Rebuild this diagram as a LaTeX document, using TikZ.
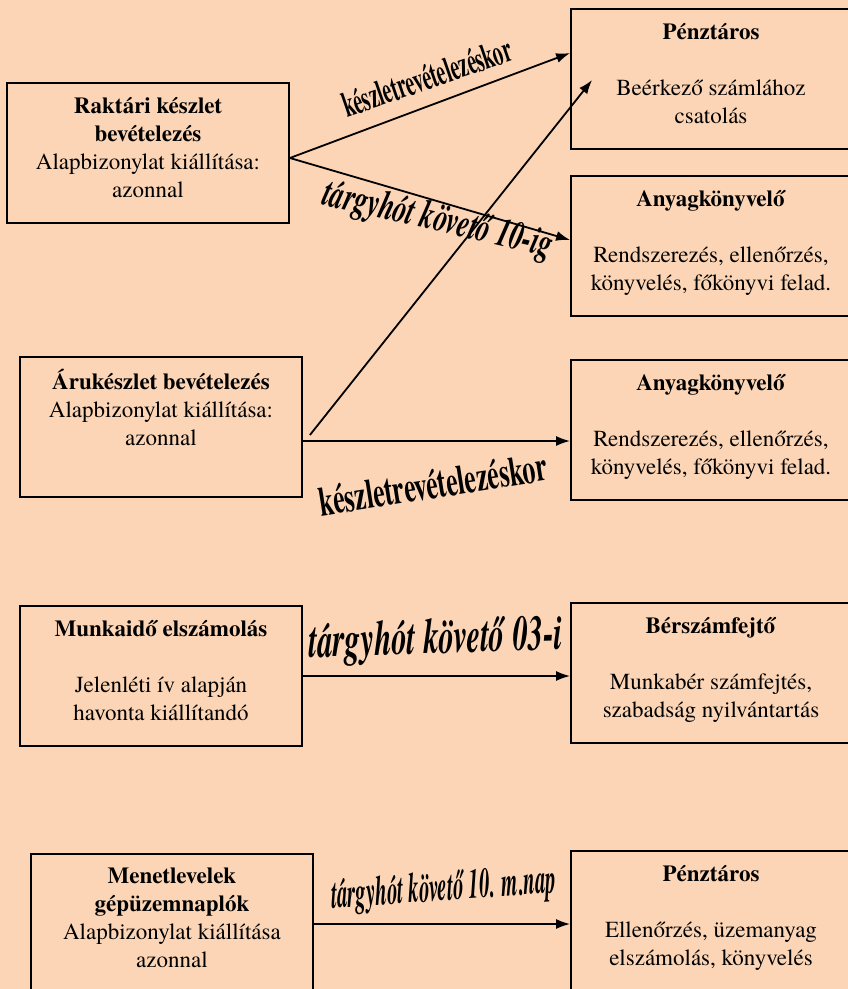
\documentclass[tikz,border=0pt]{standalone}
\usepackage{fontspec}
\setmainfont{texgyretermes}[Extension=.otf,UprightFont=*-regular,BoldFont=*-bold,
  ItalicFont=*-italic,BoldItalicFont=*-bolditalic]
\usetikzlibrary{arrows.meta}
\definecolor{bgpeach}{RGB}{251,213,181}

\begin{document}
\begin{tikzpicture}
[x=1pt,y=-1pt,line width=1.8pt,>={Latex[length=14pt,width=10pt]},%
  every node/.style={align=center,font=\fontsize{23}{28}\selectfont},
  box/.style={draw,line width=1.8pt,minimum height=140pt,inner sep=0pt,
    execute at end node={\rule[-12pt]{0pt}{12pt}}},
  lbl/.style={inner sep=0pt,font=\fontsize{#1}{#1}\selectfont\bfseries},
  lblit/.style={inner sep=0pt,font=\fontsize{#1}{#1}\selectfont\bfseries\itshape}]
\path[use as bounding box,fill=bgpeach] (0,0) rectangle (848,989);
% bizonylatok
\node[box,minimum width=282pt] (rak) at (148,153)
  {\textbf{Raktári készlet}\\\textbf{bevételezés}\\Alapbizonylat kiállítása:\\azonnal};
\node[box,minimum width=282pt] (aru) at (161,427)
  {\textbf{Árukészlet bevételezés}\\Alapbizonylat kiállítása:\\azonnal\\~};
\node[box,minimum width=282pt] (munka) at (161,676)
  {\textbf{Munkaidő elszámolás}\\~\\Jelenléti ív alapján\\havonta kiállítandó};
\node[box,minimum width=282pt] (menet) at (172,924)
  {\textbf{Menetlevelek}\\\textbf{gépüzemnaplók}\\Alapbizonylat kiállítása\\azonnal};
% feldolgozók
\node[box,minimum width=280pt] (penz1) at (711,79)
  {\textbf{Pénztáros}\\~\\Beérkező számlához\\csatolás};
\node[box,minimum width=280pt] (anyag1) at (711,246)
  {\textbf{Anyagkönyvelő}\\~\\Rendszerezés, ellenőrzés,\\könyvelés, főkönyvi felad.};
\node[box,minimum width=280pt] (anyag2) at (711,430)
  {\textbf{Anyagkönyvelő}\\~\\Rendszerezés, ellenőrzés,\\könyvelés, főkönyvi felad.};
\node[box,minimum width=280pt] (bersz) at (711,673)
  {\textbf{Bérszámfejtő}\\~\\Munkabér számfejtés,\\szabadság nyilvántartás};
\node[box,minimum width=280pt] (penz2) at (711,921)
  {\textbf{Pénztáros}\\~\\Ellenőrzés, üzemanyag\\elszámolás, könyvelés};
% nyilak
\coordinate (aruki) at ([yshift=-14pt]aru.east);
\draw[->] ([yshift=-5pt]rak.east) -- ([yshift=26pt]penz1.west);
\draw[->] ([yshift=-5pt]rak.east) -- ([yshift=6pt]anyag1.west);
\draw[->] ([xshift=7pt,yshift=-8pt]aru.east) -- ([xshift=22pt,yshift=-1pt]penz1.west);
\draw[->] (aruki) -- (aruki -| anyag2.west);
\draw[->] (munka.east) -- (munka.east -| bersz.west);
\draw[->] (menet.east) -- (menet.east -| penz2.west);
% határidők
\node[lbl=20,rotate=19,yscale=1.8] (kor1) at (427,77) {készletrevételezéskor};
\node[lblit=27,rotate=-13,yscale=1.5] (tat1) at (438,221) {tárgyhót követő 10-ig};
\node[lbl=26,rotate=9,yscale=1.6] (kor2) at (433,484) {készletrevételezéskor};
\node[lblit=31,rotate=2,yscale=1.6] (tat2) at (436,641) {tárgyhót követő 03-i};
\node[lblit=21,rotate=4,yscale=2] (tat3) at (444,890) {tárgyhót követő 10. m.nap};
\end{tikzpicture}
\end{document}
